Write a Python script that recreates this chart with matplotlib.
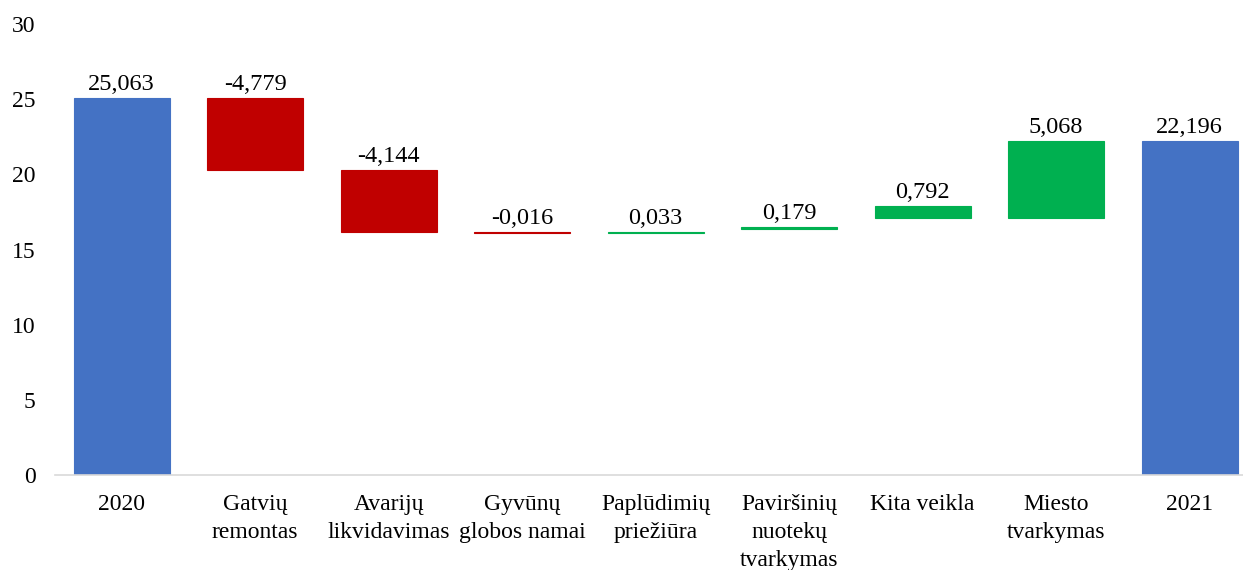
import matplotlib.pyplot as plt
import numpy as np

# data (decimal comma as in the source)
categories = ["2020", "Gatvių\nremontas", "Avarijų\nlikvidavimas", "Gyvūnų\nglobos namai",
              "Paplūdimių\npriežiūra", "Paviršinių\nnuotekų\ntvarkymas", "Kita veikla",
              "Miesto\ntvarkymas", "2021"]
values = [25.063, -4.779, -4.144, -0.016, 0.033, 0.179, 0.792, 5.068, 22.196]
# bar bases as drawn in the source chart
bases = [0, 20.284, 16.140, 16.124, 16.124, 16.336, 17.128, 17.128, 0]
kinds = ["total", "change", "change", "change", "change", "change", "change", "change", "total"]

plt.rcParams['font.family'] = ['Liberation Serif', 'DejaVu Serif']

blue = '#4472C4'
red = '#C00000'
green = '#00B050'

heights = [abs(v) for v in values]
colors = [blue if k == "total" else (red if v < 0 else green) for k, v in zip(kinds, values)]

fig = plt.figure(figsize=(12.43, 5.70), dpi=100)
ax = fig.add_axes([55 / 1243, 1 - 475 / 570, 1 - 55 / 1243, (475 - 24) / 570])

x = np.arange(len(categories))
ax.bar(x, heights, bottom=bases, width=0.72, color=colors, edgecolor=colors, linewidth=0.8)

for xi, b, h, v in zip(x, bases, heights, values):
    label = f"{v:.3f}".replace('.', ',')
    ax.text(xi, b + h + 0.2, label, ha='center', va='bottom', fontsize=17.5)

ax.set_xlim(-0.5, 8.40)
ax.set_ylim(0, 30)
ax.set_yticks(range(0, 31, 5))
ax.set_xticks(x)
ax.set_xticklabels(categories, fontsize=17, linespacing=1.42)
ax.tick_params(axis='y', length=0, labelsize=17, pad=14)
ax.tick_params(axis='x', length=0, pad=14)

for s in ['top', 'right', 'left']:
    ax.spines[s].set_visible(False)
ax.spines['bottom'].set_color('#d9d9d9')
ax.spines['bottom'].set_linewidth(1.2)

fig.savefig('out.png', dpi=100)
